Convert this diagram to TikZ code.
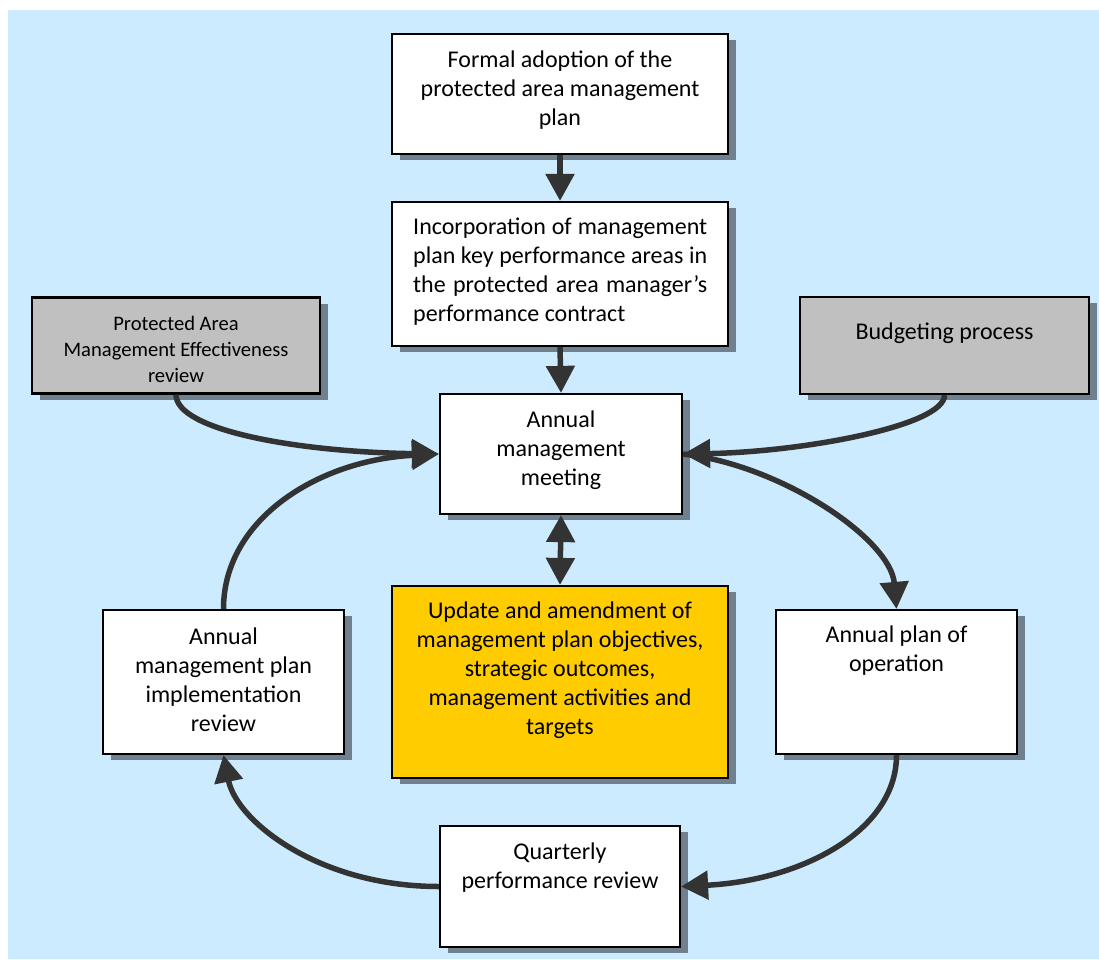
\documentclass[tikz,border=0pt]{standalone}
\usepackage{fontspec}
\setmainfont{Carlito}
\usetikzlibrary{arrows.meta,shadows}
\definecolor{bgblue}{RGB}{204,235,255}
\definecolor{shadowc}{RGB}{112,128,142}
\definecolor{boxgray}{RGB}{192,192,192}
\definecolor{boxyellow}{RGB}{255,204,0}
\definecolor{arrowc}{RGB}{51,51,51}
\tikzset{
  box/.style={draw=black, line width=2.2pt, fill=white, inner sep=0pt,
    general shadow={shadow xshift=8pt, shadow yshift=-6pt, fill=shadowc}},
  graybox/.style={box, fill=boxgray},
  yellowbox/.style={box, fill=boxyellow},
  txt/.style={align=center, inner sep=0pt, font=\fontsize{24}{29}\selectfont},
  smalltxt/.style={align=center, inner sep=0pt, font=\fontsize{20.6}{26}\selectfont},
  conn/.style={draw=arrowc, line width=5.5pt, -{Triangle[width=28pt,length=27pt]}},
  conn2/.style={draw=arrowc, line width=5.5pt, {Triangle[width=28pt,length=27pt]}-{Triangle[width=28pt,length=27pt]}}
}
\begin{document}
\begin{tikzpicture}[x=1pt,y=-1pt]
\useasboundingbox (0,0) rectangle (1099,959);
\fill[white] (0,0) rectangle (1099,959);
\fill[bgblue] (8,10) rectangle (1099,959);

% boxes
\node[box, minimum width=336pt, minimum height=120pt] (formal) at (560,94) {};
\node[box, minimum width=336pt, minimum height=144pt] (incorp) at (560,274) {};
\node[graybox, minimum width=288pt, minimum height=96pt] (pame) at (176,345.5) {};
\node[graybox, minimum width=289pt, minimum height=97pt] (budget) at (944.5,345.5) {};
\node[box, minimum width=242pt, minimum height=120pt] (meeting) at (561,454) {};
\node[yellowbox, minimum width=336pt, minimum height=192pt] (update) at (560,682) {};
\node[box, minimum width=241pt, minimum height=144pt] (impl) at (223.5,682) {};
\node[box, minimum width=241pt, minimum height=144pt] (plan) at (896.5,682) {};
\node[box, minimum width=240pt, minimum height=121pt] (quarter) at (560,886.5) {};

% texts
\node[txt] (formalt) at (560,90) {Formal adoption of the\\protected area management\\plan};
\node[txt, align=left, anchor=west] (incorpt) at (413,272) {\makebox[294pt][s]{Incorporation of management}\\\makebox[294pt][s]{plan key performance areas in}\\\makebox[294pt][s]{the protected area manager’s}\\performance contract};
\node[smalltxt] (pamet) at (176,349) {Protected Area\\Management Effectiveness\\review};
\node[txt] (budgett) at (944.5,333) {Budgeting process};
\node[txt] (meetingt) at (561,450) {Annual\\management\\meeting};
\node[txt] (updatet) at (560,670) {Update and amendment of\\management plan objectives,\\strategic outcomes,\\management activities and\\targets};
\node[txt] (implt) at (223.5,680) {Annual\\management plan\\implementation\\review};
\node[txt] (plant) at (896.5,651) {Annual plan of\\operation};
\node[txt] (quartert) at (560,867.5) {Quarterly\\performance review};

% connectors
\draw[conn] (formal.south) -- (incorp.north);
\draw[conn] (incorp.south) -- (meeting.north);
\draw[conn2] (meeting.south) -- (update.north);
\draw[conn] (pame.south) .. controls +(0,36) and +(-140,-2) .. (meeting.west);
\draw[conn] (budget.south) .. controls +(0,31) and +(118,-2) .. (meeting.east);
\draw[conn] (meeting.east) .. controls +(98,11) and +(-6,-70) .. (plan.north);
\draw[conn] (plan.south) .. controls +(0,76) and +(120,-6) .. (quarter.east);
\draw[conn] (quarter.west) .. controls +(-120,0) and +(13,66) .. (impl.south);
\draw[conn] (impl.north) .. controls +(0,-90) and +(-120,6) .. (meeting.west);
\end{tikzpicture}
\end{document}
